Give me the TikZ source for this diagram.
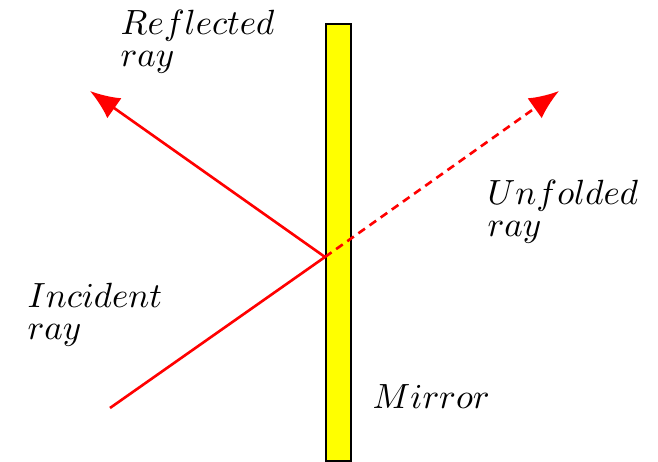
\documentclass[tikz,border=0pt]{standalone}
\usepackage{xcolor}
\usepackage{tikz}
\usetikzlibrary{arrows.meta}
\definecolor{clrRay}{RGB}{255,0,0}
\definecolor{clrMirror}{RGB}{255,255,0}
\tikzset{
  mirror/.style={draw=black,fill=clrMirror,line width=0.6pt},
  ray/.style={clrRay,line width=0.75pt},
  rayarrow/.style={ray,-{Latex[length=8.5pt,width=7pt]}},
  unfold/.style={rayarrow,dash pattern=on 2.3pt off 1.6pt},
  lbl/.style={font=\fontsize{10.3}{9.2}\selectfont,align=left,anchor=base west,inner sep=0pt}
}
\begin{document}
\begin{tikzpicture}[x=0.2857pt,y=-0.2857pt]
  \useasboundingbox (0,0) rectangle (658,462);
  \draw[mirror] (326,24) rectangle (351,461);
  \coordinate (src) at (110,408);
  \coordinate (hit) at (325,257);
  \coordinate (refl) at (90,91);
  \coordinate (unf) at (559,91);
  \draw[ray] (src) -- (hit);
  \draw[rayarrow] (hit) -- (refl);
  \draw[unfold] (hit) -- (unf);
  % base anchor sits on the last line
  \node[lbl] (lrefl) at (120,67) {$Reflected$\\$ray$};
  \node[lbl] (lunf) at (487,237) {$Unfolded$\\$ray$};
  \node[lbl] (linc) at (27,340) {$Incident$\\$ray$};
  \node[lbl] (lmir) at (372,409) {$Mirror$};
\end{tikzpicture}
\end{document}
